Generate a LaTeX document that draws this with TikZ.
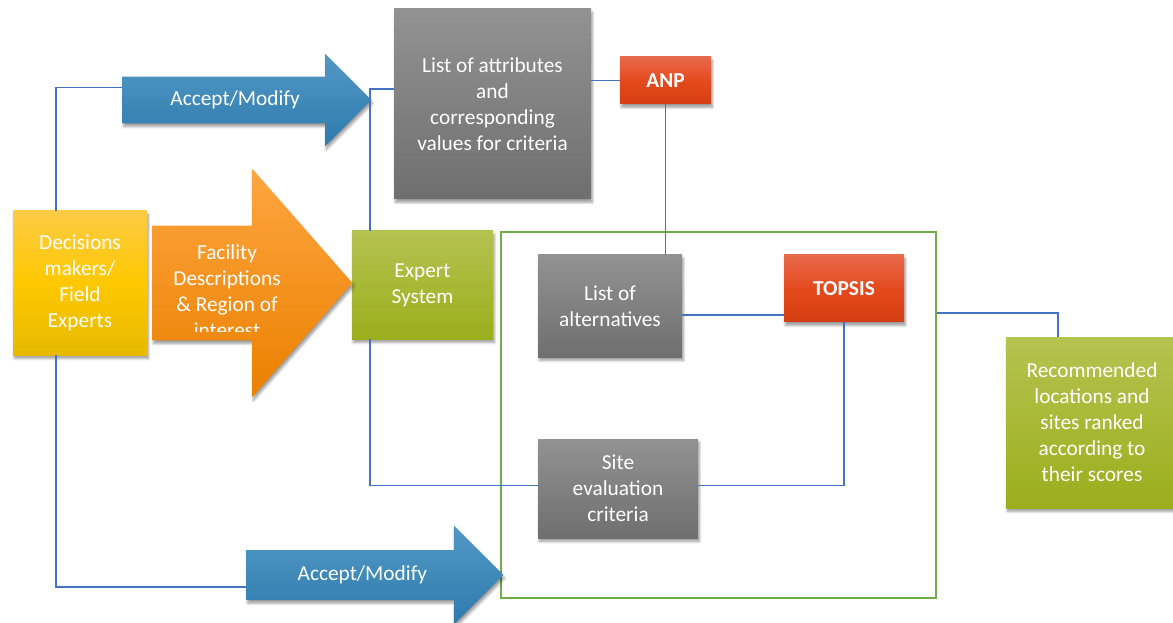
\documentclass[tikz,border=0pt]{standalone}
\usepackage{fontspec}
\setmainfont{Carlito}
\usetikzlibrary{shapes.arrows,shadows.blur,calc}
\definecolor{linkblue}{HTML}{4472C4}
\definecolor{framegreen}{HTML}{70AD47}
\definecolor{greytop}{HTML}{929292}
\definecolor{greybot}{HTML}{6F6F6F}
\definecolor{redtop}{HTML}{E6694A}
\definecolor{redmid}{HTML}{E54A1E}
\definecolor{redbot}{HTML}{D43E12}
\definecolor{greentop}{HTML}{B5C350}
\definecolor{greenbot}{HTML}{9BAE1C}
\definecolor{yellowtop}{HTML}{FDCB45}
\definecolor{yellowmid}{HTML}{FFC800}
\definecolor{yellowbot}{HTML}{E6B900}
\definecolor{bluetop}{HTML}{5298C6}
\definecolor{bluebot}{HTML}{2E7BAD}
\definecolor{orangetop}{HTML}{FFA640}
\definecolor{orangebot}{HTML}{EA8000}

\begin{document}
\begin{tikzpicture}[x=0.75pt, y=-0.75pt,
  block/.style={rectangle, align=center, text=white, inner sep=2pt,
    font=\fontsize{16}{19.5}\selectfont,
    blur shadow={shadow xshift=1pt, shadow yshift=-2.5pt, shadow blur steps=6, shadow opacity=40}},
  greyblock/.style={block, top color=greytop, bottom color=greybot},
  redblock/.style={block, top color=redtop, bottom color=redbot, middle color=redmid, font=\fontsize{16}{19.5}\selectfont\bfseries},
  greenblock/.style={block, top color=greentop, bottom color=greenbot},
  yellowblock/.style={block, top color=yellowtop, bottom color=yellowbot, middle color=yellowmid},
  flowarrow/.style={single arrow, single arrow head indent=0pt, anchor=tail, text=white, inner xsep=2pt,
    text height=12pt, text depth=4pt, font=\fontsize{16}{19.5}\selectfont,
    blur shadow={shadow xshift=1pt, shadow yshift=-2.5pt, shadow blur steps=6, shadow opacity=40}},
  link/.style={draw=linkblue, line width=0.9pt}
]
  \useasboundingbox (0,0) rectangle (1173,623);

  % frame round the ranking step
  \node[draw=framegreen, line width=1.8pt, minimum width=326.25pt, minimum height=274.5pt, inner sep=0pt] (frame) at (718.5,415) {};

  \node[yellowblock, minimum width=100.5pt, minimum height=108pt] (dm) at (80,283) {Decisions\\makers/\\Field\\Experts};
  \node[greenblock, minimum width=105.75pt, minimum height=81pt] (es) at (422.5,285) {Expert\\System};
  \node[greyblock, minimum width=147.75pt, minimum height=142.5pt] (attr) at (492.5,104) {List of attributes\\and\\corresponding\\values for criteria};
  \node[redblock, minimum width=68.25pt, minimum height=35.25pt] (anp) at (665.5,80.5) {ANP};
  \node[greyblock, minimum width=108pt, minimum height=76.5pt] (alt) at (610,306) {List of\\alternatives};
  \node[redblock, minimum width=90pt, minimum height=50.25pt] (topsis) at (844,288.5) {TOPSIS};
  \node[greyblock, minimum width=120pt, minimum height=74.25pt] (site) at (618,488.5) {Site\\evaluation\\criteria};
  \node[greenblock, minimum width=129pt, minimum height=128.25pt] (rec) at (1092,422.5) {Recommended\\locations and\\sites ranked\\according to\\their scores};

  % block arrows
  \node[flowarrow, top color=bluetop, bottom color=bluebot, inner ysep=9.25pt, minimum height=186.75pt, minimum width=69pt, single arrow head extend=17.25pt] (acc1) at (122,100) {Accept/Modify};
  \node[flowarrow, top color=bluetop, bottom color=bluebot, inner ysep=10.4pt, minimum height=192.75pt, minimum width=73.5pt, single arrow head extend=18.4pt] (acc2) at (246,575) {Accept/Modify};
  \node[flowarrow, top color=orangetop, bottom color=orangebot, inner ysep=34.75pt, single arrow tip angle=97.5, minimum height=150pt, minimum width=171pt, single arrow head extend=42.75pt] (fac) at (152,283) {};
  \begin{scope}
    \clip (150,160) rectangle (360,331);
    \node[align=center, text=white, font=\fontsize{16}{19.5}\selectfont] (factext) at (227,291) {Facility\\Descriptions\\\& Region of\\interest};
  \end{scope}

  \draw[link] ([xshift=-18pt]dm.north) |- ([yshift=9.5pt]acc1.tail);
  \draw[link] ([xshift=-18pt]dm.south) |- ([yshift=-9pt]acc2.tail);
  \draw[link] ([xshift=-39.4pt]es.north) |- ([yshift=11.25pt]attr.west);
  \draw[link] ([xshift=-39.4pt]es.south) |- ([yshift=2pt]site.west);
  \draw[link] (attr.east |- anp.west) -- (anp.west);
  \draw[link] (anp.south) -- (anp.south |- alt.north);
  \draw[link] ([yshift=-6.75pt]alt.east) -- ([yshift=-6.75pt]alt.east -| topsis.west);
  \draw[link] (topsis.south) |- ([yshift=2pt]site.east);
  \draw[link] ([yshift=76.5pt]frame.east) -| ([xshift=-25.5pt]rec.north);
\end{tikzpicture}
\end{document}
